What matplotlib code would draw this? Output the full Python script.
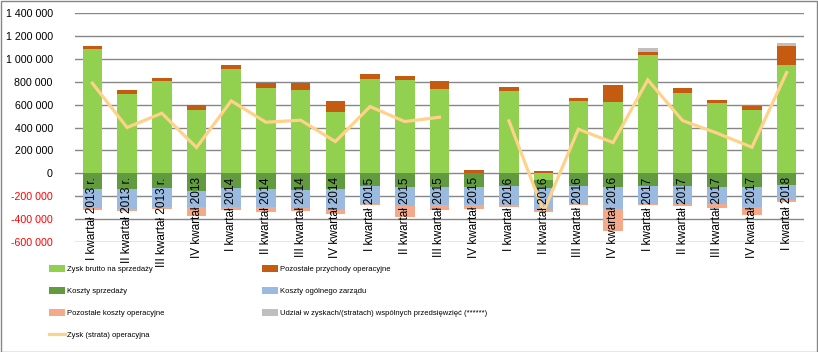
import numpy as np
import matplotlib
matplotlib.use('Agg')
import matplotlib.pyplot as plt
from matplotlib.patches import Patch, Rectangle
from matplotlib.lines import Line2D
from matplotlib.ticker import FuncFormatter

# %% data (PLN thousands, converted below)
kwartaly = ['I kwartał 2013 r.', 'II kwartał 2013 r.', 'III kwartał 2013 r.', 'IV kwartał 2013',
            'I kwartał 2014', 'II kwartał 2014', 'III kwartał 2014', 'IV kwartał 2014',
            'I kwartał 2015', 'II kwartał 2015', 'III kwartał 2015', 'IV kwartał 2015',
            'I kwartał 2016', 'II kwartał 2016', 'III kwartał 2016', 'IV kwartał 2016',
            'I kwartał 2017', 'II kwartał 2017', 'III kwartał 2017', 'IV kwartał 2017',
            'I kwartał 2018']

zysk_brutto = [1088, 694, 808, 557, 913, 747, 729, 537, 825, 817, 738,
               0, 720, -58, 636, 624, 1035, 703, 615, 554, 948]
poz_przychody = [26, 35, 26, 41, 35, 41, 59, 96, 44, 35, 70,
                 30, 35, 20, 23, 149, 27, 44, 27, 35, 166]
koszty_sprzedazy = [-137, -137, -131, -155, -131, -137, -146, -137, -108, -125, -125,
                    -125, -108, -73, -108, -125, -108, -111, -117, -125, -102]
koszty_zarzadu = [-169, -175, -166, -143, -166, -163, -155, -184, -160, -160, -158,
                  -158, -169, -190, -160, -190, -160, -158, -152, -175, -131]
poz_koszty = [-20, -15, -15, -73, -23, -44, -26, -35, -15, -102, -38,
              -29, -23, -17, -15, -190, -15, -15, -32, -64, -23]
udzial = [0, 0, 0, 0, 0, 0, 0, 0, 0, 0, 0,
          0, 0, 0, 0, 0, 35, 0, 0, 0, 26]
zysk_operacyjny = [788, 400, 525, 225, 633, 446, 464, 277, 583, 452, 490,
                   np.nan, 458, -336, 385, 268, 817, 461, 350, 227, 881]

seria = [
    ('Zysk brutto na sprzedaży', zysk_brutto, '#92D050'),
    ('Pozostałe przychody operacyjne', poz_przychody, '#C55A11'),
    ('Koszty sprzedaży', koszty_sprzedazy, '#629A3F'),
    ('Koszty ogólnego zarządu', koszty_zarzadu, '#9BBAE0'),
    ('Pozostałe koszty operacyjne', poz_koszty, '#F4A98A'),
    ('Udział w zyskach/(stratach) wspólnych przedsięwzięć (******)', udzial, '#BFBFBF'),
]
linia_kolor = '#FFD28A'

# %%
plt.rcParams['font.family'] = ['Liberation Sans', 'DejaVu Sans']

fig = plt.figure(figsize=(8.18, 3.52), dpi=100)
ax = fig.add_axes([75 / 818, 1 - 241.7 / 352, 729 / 818, 228.4 / 352])

x = np.arange(len(kwartaly))
pos_bottom = np.zeros(len(x))
neg_bottom = np.zeros(len(x))
handles = {}
for name, vals, col in seria:
    v = np.array(vals, dtype=float) * 1000
    bottom = np.where(v >= 0, pos_bottom, neg_bottom)
    ax.bar(x, v, 0.56, bottom=bottom, color=col, zorder=2)
    pos_bottom += np.where(v > 0, v, 0)
    neg_bottom += np.where(v < 0, v, 0)
    handles[name] = Patch(facecolor=col)

ax.plot(x, np.array(zysk_operacyjny) * 1000, color=linia_kolor, lw=2.3, zorder=3,
        solid_joinstyle='miter')

ax.set_xlim(-0.5, len(x) - 0.5)
ax.set_ylim(-600000, 1400000)
ax.set_yticks(np.arange(-600000, 1400001, 200000))
ax.yaxis.set_major_formatter(FuncFormatter(lambda v, p: '{:,.0f}'.format(v).replace(',', ' ')))
ax.grid(axis='y', color='#878787', lw=1, zorder=0)
ax.tick_params(axis='y', length=0, pad=16, labelsize=7.7)
for lab, val in zip(ax.get_yticklabels(), ax.get_yticks()):
    lab.set_color('#FF0000' if val < 0 else 'black')

for s in ['top', 'right', 'left']:
    ax.spines[s].set_visible(False)
ax.spines['bottom'].set_position(('data', 0))
ax.spines['bottom'].set_visible(False)
ax.set_xticks(x)
ax.set_xticklabels(kwartaly, rotation=90, ha='center', va='top')
ax.tick_params(axis='x', length=0, pad=3, labelsize=8.5)
ax.xaxis.set_zorder(5)

# legend laid out in two columns like the original
ln = Line2D([], [], color=linia_kolor, lw=2.3)
col1 = ['Zysk brutto na sprzedaży', 'Koszty sprzedaży', 'Pozostałe koszty operacyjne']
col2 = ['Pozostałe przychody operacyjne', 'Koszty ogólnego zarządu',
        'Udział w zyskach/(stratach) wspólnych przedsięwzięć (******)']
leg_kw = dict(frameon=False, handlelength=2.1, handleheight=0.95, handletextpad=0.25,
              labelspacing=1.85, borderpad=0, borderaxespad=0,
              prop={'family': ['Liberation Sans Narrow', 'Liberation Sans'], 'size': 5.5})
fig.legend([handles[n] for n in col1] + [ln], col1 + ['Zysk (strata) operacyjna'],
           loc='upper left', bbox_to_anchor=(49 / 818, 1 - 265 / 352), **leg_kw)
fig.legend([handles[n] for n in col2], col2,
           loc='upper left', bbox_to_anchor=(262 / 818, 1 - 265 / 352), **leg_kw)

fig.patches.append(Rectangle((0.5 / 818, 0.5 / 352), 816 / 818, 350.5 / 352,
                             transform=fig.transFigure, fill=False,
                             edgecolor='#868686', lw=1))

fig.savefig('out.png', dpi=100)
plt.close()
